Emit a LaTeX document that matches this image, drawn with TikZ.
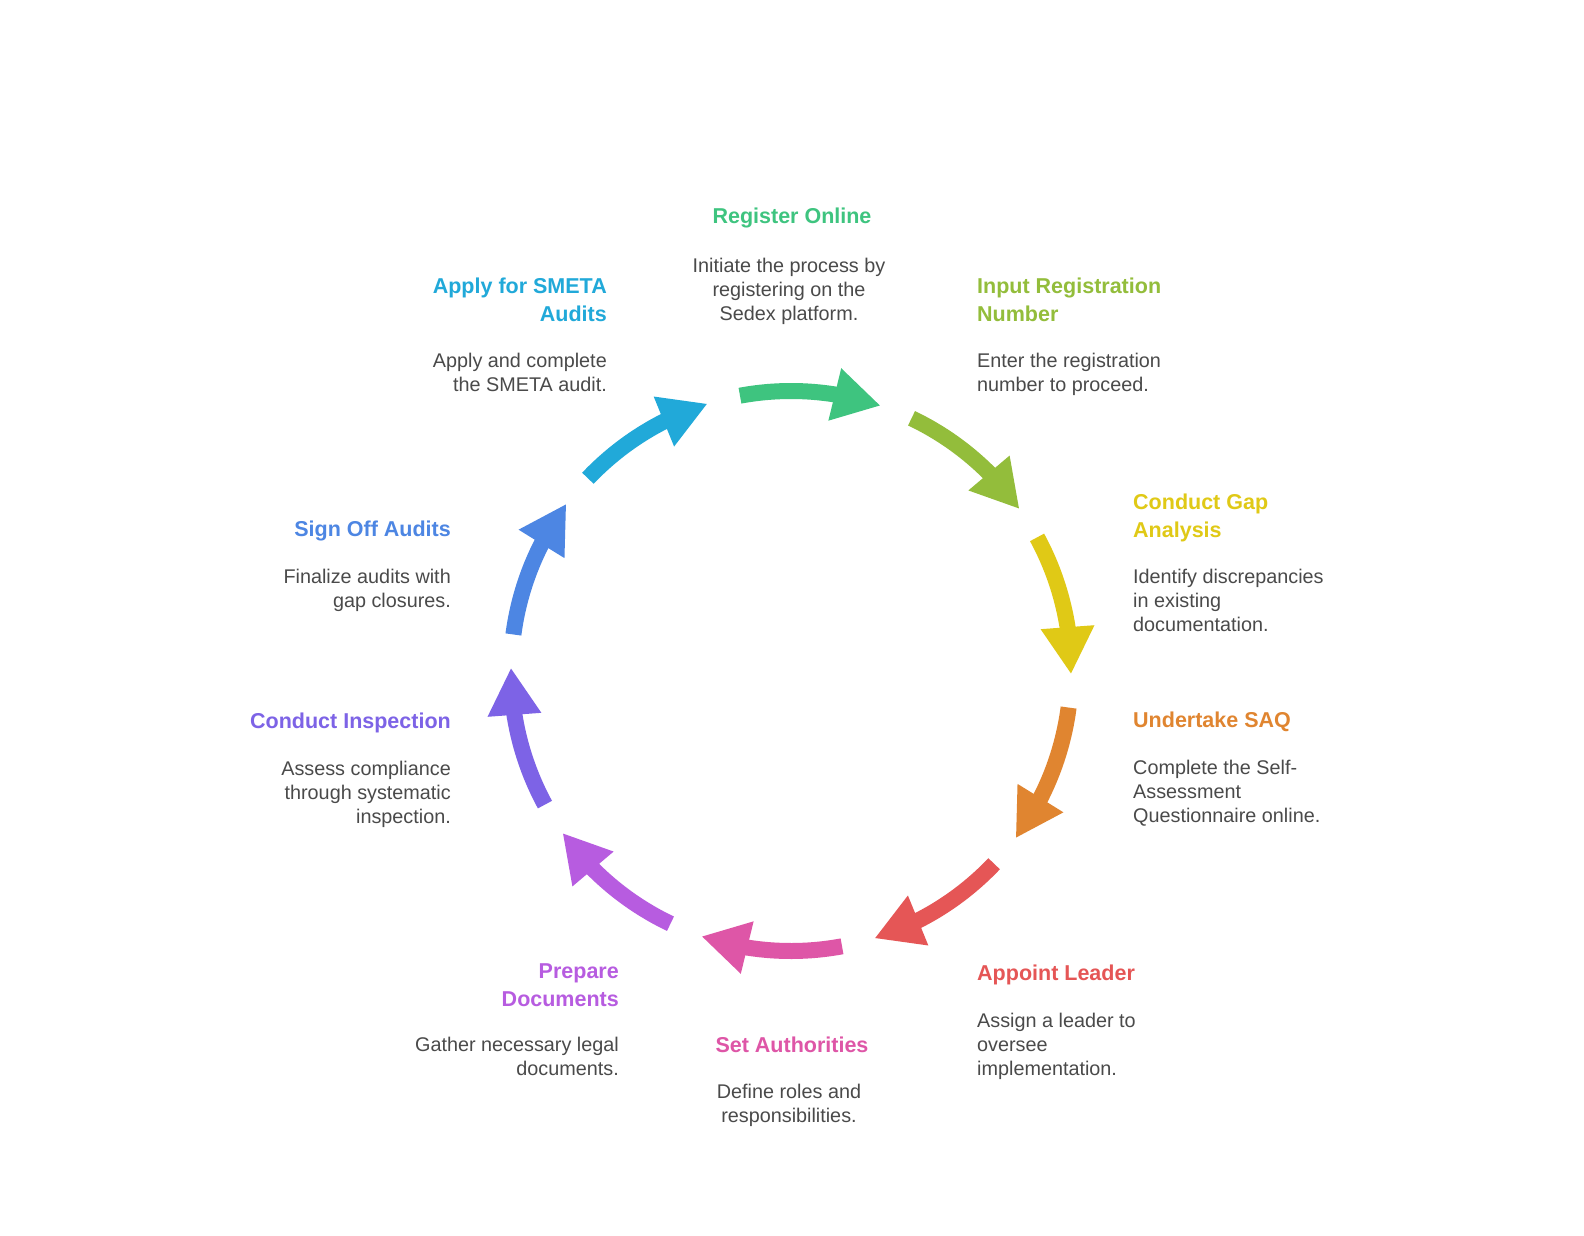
\documentclass[tikz,border=0pt]{standalone}
\usepackage{fontspec}
\setmainfont{Liberation Sans}
\usetikzlibrary{calc}
\definecolor{cA}{HTML}{3EC47F}
\definecolor{cB}{HTML}{93BD3B}
\definecolor{cC}{HTML}{E0C916}
\definecolor{cD}{HTML}{E08530}
\definecolor{cE}{HTML}{E55656}
\definecolor{cF}{HTML}{DE56A7}
\definecolor{cG}{HTML}{B75CE0}
\definecolor{cH}{HTML}{7D63E6}
\definecolor{cI}{HTML}{4D86E3}
\definecolor{cJ}{HTML}{21A9D9}
\definecolor{txtgray}{HTML}{4A4A4A}
\newcommand\blkL[1]{\vtop{\halign{##\hfil\cr#1\crcr}}}
\newcommand\blkR[1]{\vtop{\halign{\hfil##\cr#1\crcr}}}
\newcommand\blkC[1]{\vtop{\halign{\hfil##\hfil\cr#1\crcr}}}
\tikzset{
  ttl/.style={font=\fontsize{21.5}{28}\selectfont\bfseries, inner sep=0pt},
  dsc/.style={font=\fontsize{19.8}{24}\selectfont, text=txtgray, inner sep=0pt},
  seg/.style={line width=16pt, line cap=butt},
}
\begin{document}
\begin{tikzpicture}[x=1pt,y=1pt]
\useasboundingbox (0,0) rectangle (1584,-1236);
\fill[white] (0,0) rectangle (1584,-1236);
\coordinate (C) at (791,-671);
\foreach \k/\col in {0/cA,1/cB,2/cC,3/cD,4/cE,5/cF,6/cG,7/cH,8/cI,9/cJ}{
  \pgfmathsetmacro\ta{100.5-36*\k}
  \pgfmathsetmacro\tb{80-36*\k}
  \pgfmathsetmacro\hb{81-36*\k}
  \pgfmathsetmacro\tp{71.5-36*\k}
  \draw[seg, draw=\col] ($(C)+(\ta:280)$) arc[start angle=\ta, end angle=\tb, radius=280];
  \coordinate (B\k) at ($(C)+(\hb:280)$);
  \coordinate (T\k) at ($(C)+(\tp:280)$);
  \fill[\col] ($(B\k)!27pt!90:(T\k)$) -- (T\k) -- ($(B\k)!27pt!-90:(T\k)$) -- cycle;
}
% Register Online
\node[ttl, text=cA, anchor=base] (t0) at (792,-223) {Register Online};
\node[dsc, anchor=base] (d0) at (789,-272) {\blkC{Initiate the process by\cr registering on the\cr Sedex platform.}};
% Input Registration Number
\node[ttl, text=cB, anchor=base west] (t1) at (977,-293) {\fontsize{21.5}{28}\selectfont\blkL{Input Registration\cr Number}};
\node[dsc, anchor=base west] (d1) at (977,-367) {\blkL{Enter the registration\cr number to proceed.}};
% Conduct Gap Analysis
\node[ttl, text=cC, anchor=base west] (t2) at (1133,-509) {\blkL{Conduct Gap\cr Analysis}};
\node[dsc, anchor=base west] (d2) at (1133,-583) {\blkL{Identify discrepancies\cr in existing\cr documentation.}};
% Undertake SAQ
\node[ttl, text=cD, anchor=base west] (t3) at (1133,-727) {Undertake SAQ};
\node[dsc, anchor=base west] (d3) at (1133,-774) {\blkL{Complete the Self-\cr Assessment\cr Questionnaire online.}};
% Appoint Leader
\node[ttl, text=cE, anchor=base west] (t4) at (977,-980) {Appoint Leader};
\node[dsc, anchor=base west] (d4) at (977,-1027) {\blkL{Assign a leader to\cr oversee\cr implementation.}};
% Set Authorities
\node[ttl, text=cF, anchor=base] (t5) at (792,-1052) {Set Authorities};
\node[dsc, anchor=base] (d5) at (789,-1098) {\blkC{Define roles and\cr responsibilities.}};
% Prepare Documents
\node[ttl, text=cG, anchor=base east] (t6) at (619,-978) {\blkR{Prepare\cr Documents}};
\node[dsc, anchor=base east] (d6) at (619,-1051) {\blkR{Gather necessary legal\cr documents.}};
% Conduct Inspection
\node[ttl, text=cH, anchor=base east] (t7) at (451,-728) {Conduct Inspection};
\node[dsc, anchor=base east] (d7) at (451,-775) {\blkR{Assess compliance\cr through systematic\cr inspection.}};
% Sign Off Audits
\node[ttl, text=cI, anchor=base east] (t8) at (451,-536) {Sign Off Audits};
\node[dsc, anchor=base east] (d8) at (451,-583) {\blkR{Finalize audits with\cr gap closures.}};
% Apply for SMETA Audits
\node[ttl, text=cJ, anchor=base east] (t9) at (607,-293) {\blkR{Apply for SMETA\cr Audits}};
\node[dsc, anchor=base east] (d9) at (607,-367) {\blkR{Apply and complete\cr the SMETA audit.}};
\end{tikzpicture}
\end{document}
